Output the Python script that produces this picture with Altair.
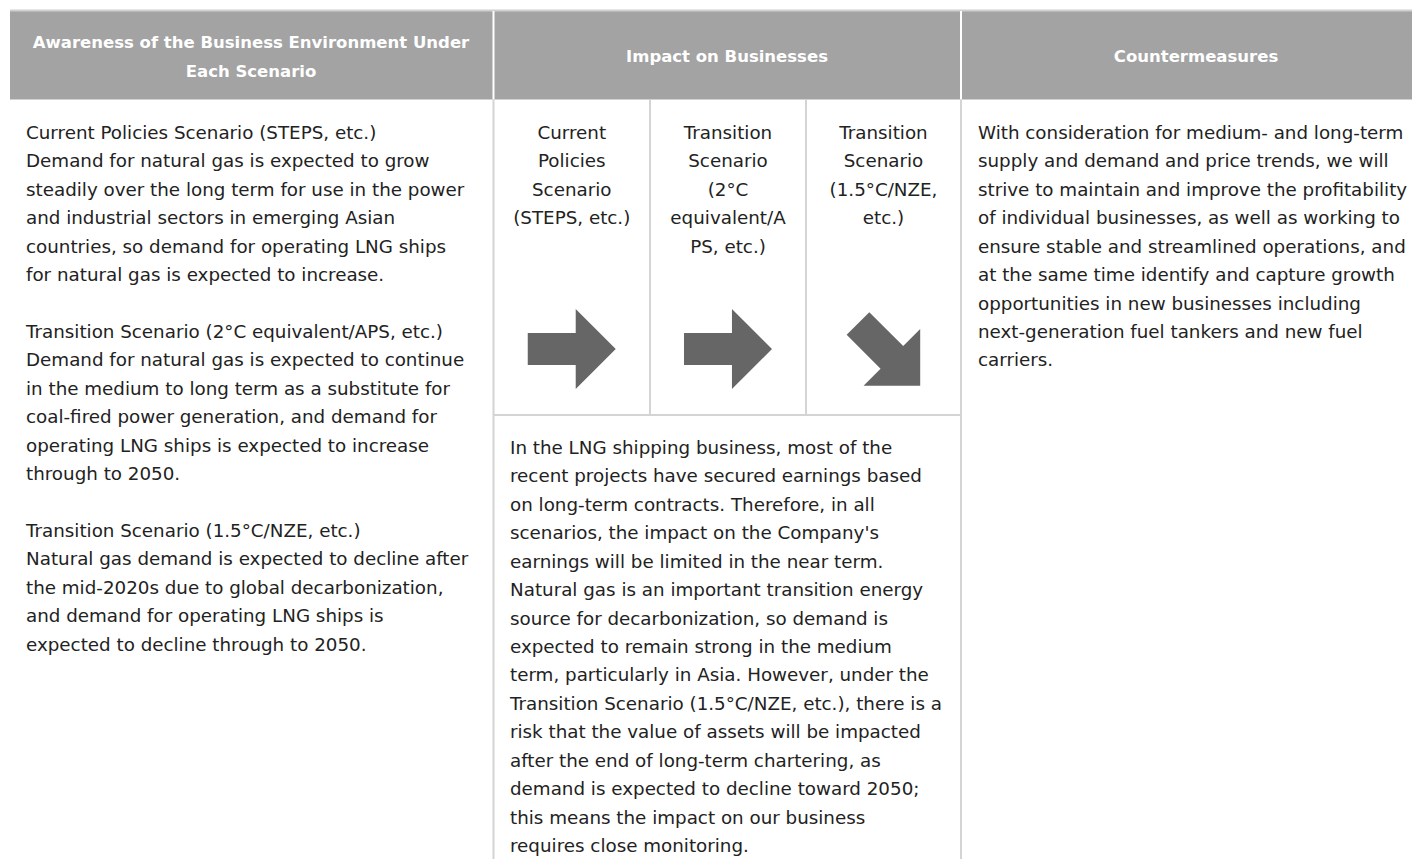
import altair as alt
import pandas as pd

# ---------------- content ----------------
header_titles = [
    ["Awareness of the Business Environment Under", "Each Scenario"],
    ["Impact on Businesses"],
    ["Countermeasures"],
]
scenario_labels = [
    ["Current", "Policies", "Scenario", "(STEPS, etc.)"],
    ["Transition", "Scenario", "(2°C", "equivalent/A", "PS, etc.)"],
    ["Transition", "Scenario", "(1.5°C/NZE,", "etc.)"],
]
scenario_trend = ["flat", "flat", "down"]
awareness_lines = [
    "Current Policies Scenario (STEPS, etc.)",
    "Demand for natural gas is expected to grow",
    "steadily over the long term for use in the power",
    "and industrial sectors in emerging Asian",
    "countries, so demand for operating LNG ships",
    "for natural gas is expected to increase.",
    "",
    "Transition Scenario (2°C equivalent/APS, etc.)",
    "Demand for natural gas is expected to continue",
    "in the medium to long term as a substitute for",
    "coal-fired power generation, and demand for",
    "operating LNG ships is expected to increase",
    "through to 2050.",
    "",
    "Transition Scenario (1.5°C/NZE, etc.)",
    "Natural gas demand is expected to decline after",
    "the mid-2020s due to global decarbonization,",
    "and demand for operating LNG ships is",
    "expected to decline through to 2050.",
]
impact_lines = [
    "In the LNG shipping business, most of the",
    "recent projects have secured earnings based",
    "on long-term contracts. Therefore, in all",
    "scenarios, the impact on the Company's",
    "earnings will be limited in the near term.",
    "Natural gas is an important transition energy",
    "source  for decarbonization, so demand is",
    "expected to remain strong in the medium",
    "term, particularly in Asia. However, under the",
    "Transition Scenario (1.5°C/NZE, etc.), there is a",
    "risk that the value of assets will be impacted",
    "after the end of long-term chartering, as",
    "demand is expected to decline toward 2050;",
    "this means the impact on our business",
    "requires close monitoring.",
]
counter_lines = [
    "With consideration for medium- and long-term",
    "supply and demand and price trends, we will",
    "strive to maintain and improve the profitability",
    "of individual businesses, as well as working to",
    "ensure stable and streamlined operations, and",
    "at the same time identify and capture growth",
    "opportunities in new businesses including",
    "next-generation fuel tankers and new fuel",
    "carriers.",
]

# ---------------- layout ----------------
W, H = 1412, 859          # visible extent (page margin 8px)
COLS = [10, 493.5, 961, 1420]
SUBS = [493.5, 650, 806, 961]
HEAD_TOP, HEAD_BOT = 11, 99.5
SUB_BOT = 415
LH = 28.43
FONT = "DejaVu Sans"
FS = 18.3
HFS = 16.5
TXT = "#222222"
LINE = "#d4d4d4"
HEAD = "#a3a3a3"
ARROW_HALF = 44

xs = alt.Scale(domain=[8, W], nice=False, zero=False)
ys = alt.Scale(domain=[8, H], nice=False, zero=False, reverse=True)
X = lambda f: alt.X(f, type="quantitative", scale=xs, axis=None)
Y = lambda f: alt.Y(f, type="quantitative", scale=ys, axis=None)

# header band
head_df = pd.DataFrame({"x": [COLS[0]], "x2": [COLS[3]], "y": [HEAD_TOP], "y2": [HEAD_BOT]})
head = alt.Chart(head_df).mark_rect(color=HEAD).encode(
    x=X("x"), x2="x2", y=Y("y"), y2="y2")

top_df = pd.DataFrame({"x": [COLS[0]], "x2": [COLS[3]], "y": [10.5]})
top = alt.Chart(top_df).mark_rule(color="#cfcfcf", strokeWidth=2).encode(
    x=X("x"), x2="x2", y=Y("y"))

# white separators in header
hsep_df = pd.DataFrame({"x": COLS[1:3], "y": [HEAD_TOP] * 2, "y2": [HEAD_BOT] * 2})
hsep = alt.Chart(hsep_df).mark_rule(color="white", strokeWidth=2).encode(
    x=X("x"), y=Y("y"), y2="y2")

# body grid lines
vl = pd.DataFrame({
    "x": [COLS[1], COLS[2], SUBS[1], SUBS[2]],
    "y": [HEAD_BOT] * 4,
    "y2": [H + 8, H + 8, SUB_BOT, SUB_BOT],
})
vgrid = alt.Chart(vl).mark_rule(color=LINE, strokeWidth=2).encode(
    x=X("x"), y=Y("y"), y2="y2")
hl = pd.DataFrame({"x": [SUBS[0]], "x2": [SUBS[3]], "y": [SUB_BOT]})
hgrid = alt.Chart(hl).mark_rule(color=LINE, strokeWidth=2).encode(
    x=X("x"), x2="x2", y=Y("y"))

# header texts
rows = []
centers = [251, 727, 1196]
for i, lines in enumerate(header_titles):
    n = len(lines)
    base = 62 - (n - 1) * 29 / 2
    for j, t in enumerate(lines):
        rows.append({"x": centers[i], "y": base + j * 29, "t": t})
htext = alt.Chart(pd.DataFrame(rows)).mark_text(
    align="center", baseline="alphabetic", font=FONT, fontSize=HFS,
    fontWeight="bold", color="white").encode(x=X("x"), y=Y("y"), text="t:N")

# scenario sub-headers (centered)
rows = []
for i, lines in enumerate(scenario_labels):
    cx = (SUBS[i] + SUBS[i + 1]) / 2
    for j, t in enumerate(lines):
        rows.append({"x": cx, "y": 139 + j * LH, "t": t})
stext = alt.Chart(pd.DataFrame(rows)).mark_text(
    align="center", baseline="alphabetic", font=FONT, fontSize=FS,
    color=TXT).encode(x=X("x"), y=Y("y"), text="t:N")

# arrows (rotated ones re-centred on their bounding box)
arrow_path = ("M -1 -0.364 L 0.09 -0.364 L 0.09 -0.91 L 1 0 "
              "L 0.09 0.91 L 0.09 0.364 L -1 0.364 Z")
angle_of = {"flat": 0, "down": 45}
shift_of = {"flat": 0.0, "down": 0.127 * ARROW_HALF}
arr_df = pd.DataFrame({
    "x": [(SUBS[i] + SUBS[i + 1]) / 2 + shift_of[t] for i, t in enumerate(scenario_trend)],
    "y": [349 + shift_of[t] for t in scenario_trend],
    "a": [angle_of[t] for t in scenario_trend],
})
arrows = alt.Chart(arr_df).mark_point(
    shape=arrow_path, filled=True, color="#666666", opacity=1,
    size=(2 * ARROW_HALF) ** 2, strokeWidth=0
).encode(x=X("x"), y=Y("y"), angle=alt.Angle("a:Q", scale=None))

# left-aligned body texts
rows = []
for x0, y0, lines in [(26, 139, awareness_lines), (510, 454, impact_lines),
                      (978, 139, counter_lines)]:
    for j, t in enumerate(lines):
        if t:
            rows.append({"x": x0, "y": y0 + j * LH, "t": t})
btext = alt.Chart(pd.DataFrame(rows)).mark_text(
    align="left", baseline="alphabetic", font=FONT, fontSize=FS,
    color=TXT).encode(x=X("x"), y=Y("y"), text="t:N")

chart = alt.layer(head, top, hsep, vgrid, hgrid, htext, stext, arrows, btext).properties(
    width=W - 8, height=H - 8,
    autosize=alt.AutoSizeParams(type="none"),
    padding=0,
).configure_view(stroke=None)

chart.save("out.html", embed_options={"renderer": "svg", "actions": False})
